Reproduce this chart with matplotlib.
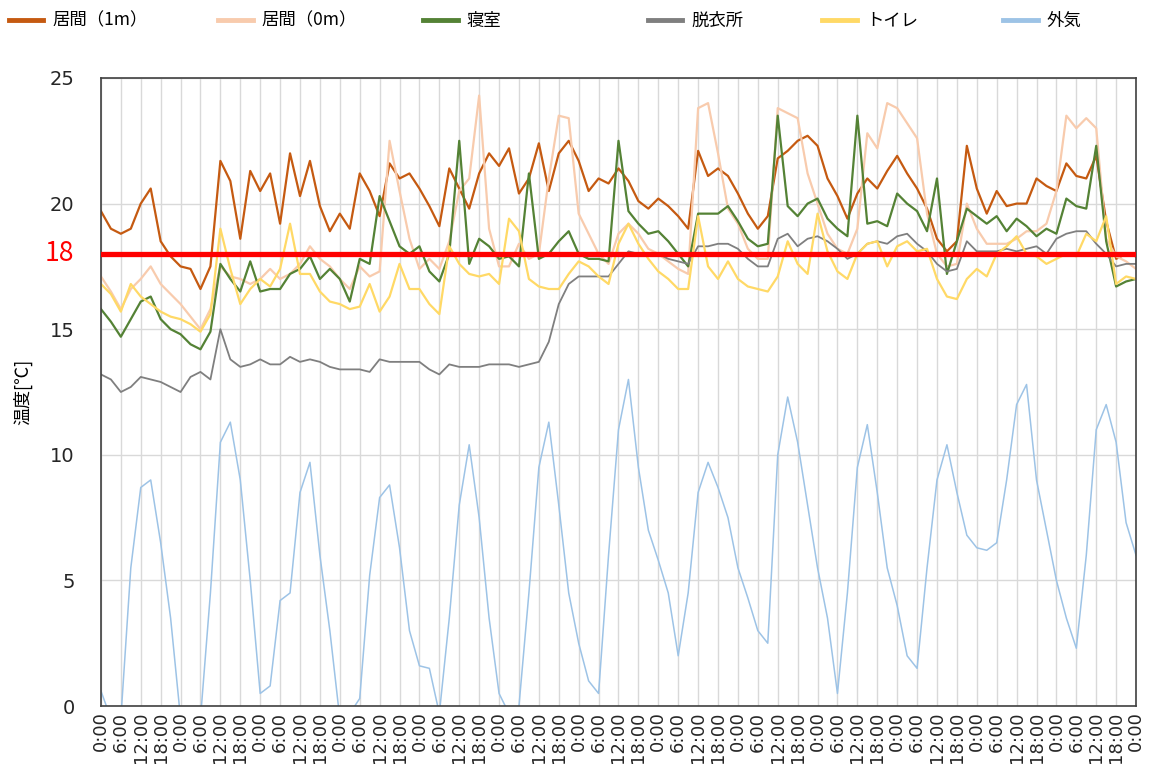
import numpy as np
import matplotlib
matplotlib.use("Agg")
import matplotlib.pyplot as plt
import matplotlib.transforms as mtransforms

plt.rcParams['font.family'] = ['Noto Sans CJK JP', 'DejaVu Sans']

# 3時間ごとの読み取り値 (0:00 から 13日分)
step_h = 3

living_1m = [
    19.7, 19.0, 18.8, 19.0, 20.0, 20.6, 18.5, 17.9,
    17.5, 17.4, 16.6, 17.5, 21.7, 20.9, 18.6, 21.3,
    20.5, 21.2, 19.2, 22.0, 20.3, 21.7, 19.9, 18.9,
    19.6, 19.0, 21.2, 20.5, 19.5, 21.6, 21.0, 21.2,
    20.6, 19.9, 19.1, 21.4, 20.6, 19.8, 21.2, 22.0,
    21.5, 22.2, 20.4, 21.0, 22.4, 20.5, 22.0, 22.5,
    21.7, 20.5, 21.0, 20.8, 21.4, 20.9, 20.1, 19.8,
    20.2, 19.9, 19.5, 19.0, 22.1, 21.1, 21.4, 21.1,
    20.4, 19.6, 19.0, 19.5, 21.8, 22.1, 22.5, 22.7,
    22.3, 21.0, 20.3, 19.4, 20.4, 21.0, 20.6, 21.3,
    21.9, 21.2, 20.6, 19.8, 18.6, 18.1, 18.5, 22.3,
    20.6, 19.6, 20.5, 19.9, 20.0, 20.0, 21.0, 20.7,
    20.5, 21.6, 21.1, 21.0, 21.9, 19.3, 17.8, 18.0,
    17.9,
]

living_0m = [
    17.1, 16.5, 15.8, 16.6, 17.0, 17.5, 16.8, 16.4,
    16.0, 15.5, 15.0, 15.8, 17.5, 17.1, 17.0, 16.8,
    17.0, 17.4, 17.0, 17.2, 17.6, 18.3, 17.8, 17.5,
    17.0, 16.6, 17.5, 17.1, 17.3, 22.5, 20.5, 18.6,
    17.4, 17.8, 17.4, 18.5, 20.5, 21.0, 24.3, 19.0,
    17.5, 17.5, 18.4, 17.8, 18.0, 21.0, 23.5, 23.4,
    19.6, 18.8, 18.0, 17.6, 18.8, 19.2, 18.8, 18.2,
    18.0, 17.7, 17.4, 17.2, 23.8, 24.0, 22.0, 19.8,
    19.2, 18.2, 17.8, 17.8, 23.8, 23.6, 23.4, 21.2,
    20.0, 18.8, 18.2, 18.0, 19.0, 22.8, 22.2, 24.0,
    23.8, 23.2, 22.6, 19.6, 18.0, 17.5, 17.6, 20.0,
    19.0, 18.4, 18.4, 18.4, 18.6, 18.9, 18.9, 19.2,
    20.5, 23.5, 23.0, 23.4, 23.0, 18.6, 17.9, 17.7,
    17.4,
]

bedroom = [
    15.8, 15.3, 14.7, 15.4, 16.1, 16.3, 15.4, 15.0,
    14.8, 14.4, 14.2, 14.9, 17.6, 17.0, 16.5, 17.7,
    16.5, 16.6, 16.6, 17.2, 17.4, 17.9, 17.0, 17.4,
    17.0, 16.1, 17.8, 17.6, 20.3, 19.3, 18.3, 18.0,
    18.3, 17.3, 16.9, 18.0, 22.5, 17.6, 18.6, 18.3,
    17.8, 17.9, 17.5, 21.2, 17.8, 18.0, 18.5, 18.9,
    18.0, 17.8, 17.8, 17.7, 22.5, 19.7, 19.2, 18.8,
    18.9, 18.5, 18.0, 17.5, 19.6, 19.6, 19.6, 19.9,
    19.3, 18.6, 18.3, 18.4, 23.5, 19.9, 19.5, 20.0,
    20.2, 19.4, 19.0, 18.7, 23.5, 19.2, 19.3, 19.1,
    20.4, 20.0, 19.7, 18.9, 21.0, 17.2, 18.5, 19.8,
    19.5, 19.2, 19.5, 18.9, 19.4, 19.1, 18.7, 19.0,
    18.8, 20.2, 19.9, 19.8, 22.3, 18.5, 16.7, 16.9,
    17.0,
]

dressing = [
    13.2, 13.0, 12.5, 12.7, 13.1, 13.0, 12.9, 12.7,
    12.5, 13.1, 13.3, 13.0, 15.0, 13.8, 13.5, 13.6,
    13.8, 13.6, 13.6, 13.9, 13.7, 13.8, 13.7, 13.5,
    13.4, 13.4, 13.4, 13.3, 13.8, 13.7, 13.7, 13.7,
    13.7, 13.4, 13.2, 13.6, 13.5, 13.5, 13.5, 13.6,
    13.6, 13.6, 13.5, 13.6, 13.7, 14.5, 16.0, 16.8,
    17.1, 17.1, 17.1, 17.1, 17.6, 18.1, 18.0, 18.0,
    18.0, 17.8, 17.7, 17.6, 18.3, 18.3, 18.4, 18.4,
    18.2, 17.8, 17.5, 17.5, 18.6, 18.8, 18.3, 18.6,
    18.7, 18.5, 18.2, 17.8, 18.0, 18.4, 18.5, 18.4,
    18.7, 18.8, 18.4, 18.1, 17.6, 17.3, 17.4, 18.5,
    18.1, 18.1, 18.1, 18.2, 18.1, 18.2, 18.3, 18.0,
    18.6, 18.8, 18.9, 18.9, 18.4, 18.0, 17.5, 17.6,
    17.6,
]

toilet = [
    16.8, 16.4, 15.7, 16.8, 16.3, 16.0, 15.7, 15.5,
    15.4, 15.2, 14.9, 15.6, 19.0, 17.4, 16.0, 16.6,
    17.0, 16.7, 17.4, 19.2, 17.2, 17.2, 16.5, 16.1,
    16.0, 15.8, 15.9, 16.8, 15.7, 16.3, 17.6, 16.6,
    16.6, 16.0, 15.6, 18.3, 17.6, 17.2, 17.1, 17.2,
    16.8, 19.4, 18.9, 17.0, 16.7, 16.6, 16.6, 17.2,
    17.7, 17.5, 17.1, 16.8, 18.4, 19.2, 18.4, 17.8,
    17.3, 17.0, 16.6, 16.6, 19.5, 17.5, 17.0, 17.7,
    17.0, 16.7, 16.6, 16.5, 17.1, 18.5, 17.6, 17.2,
    19.6, 18.1, 17.3, 17.0, 18.0, 18.4, 18.5, 17.5,
    18.3, 18.5, 18.1, 18.2, 17.0, 16.3, 16.2, 17.0,
    17.4, 17.1, 18.0, 18.3, 18.7, 18.0, 17.9, 17.6,
    17.8, 18.0, 17.9, 18.8, 18.5, 19.5, 16.8, 17.1,
    17.0,
]

outdoor = [
    0.6, -0.5, -0.5, 5.5, 8.7, 9.0, 6.5, 3.5,
    -0.5, -0.5, -0.5, 4.5, 10.5, 11.3, 9.0, 5.0,
    0.5, 0.8, 4.2, 4.5, 8.5, 9.7, 6.0, 3.0,
    -0.5, -0.3, 0.3, 5.2, 8.3, 8.8, 6.3, 3.0,
    1.6, 1.5, -0.3, 3.5, 8.0, 10.4, 7.5, 3.5,
    0.5, -0.3, 0.0, 4.5, 9.5, 11.3, 8.0, 4.5,
    2.5, 1.0, 0.5, 6.0, 11.0, 13.0, 9.5, 7.0,
    5.8, 4.5, 2.0, 4.5, 8.5, 9.7, 8.7, 7.5,
    5.5, 4.3, 3.0, 2.5, 10.0, 12.3, 10.5, 8.0,
    5.5, 3.5, 0.5, 4.5, 9.5, 11.2, 8.5, 5.5,
    4.0, 2.0, 1.5, 5.5, 9.0, 10.4, 8.5, 6.8,
    6.3, 6.2, 6.5, 9.0, 12.0, 12.8, 9.0, 7.0,
    5.0, 3.5, 2.3, 6.0, 11.0, 12.0, 10.5, 7.3,
    6.0,
]

series_names = ['居間（1m）', '居間（0m）', '寝室', '脱衣所', 'トイレ', '外気']
tick_labels = ['0:00', '6:00', '12:00', '18:00'] * 13 + ['0:00']
y_ticks = [0, 5, 10, 15, 20, 25]
threshold = 18

colors = ['#c55a11', '#f8cbad', '#548235', '#7f7f7f', '#ffd966', '#9dc3e6']
widths = [1.6, 1.6, 1.6, 1.3, 1.6, 1.1]
# 凡例の各項目の左端 (図の幅に対する割合)
legend_x = [-0.006, 0.176, 0.354, 0.549, 0.701, 0.858]

fig = plt.figure(figsize=(11.51, 7.83), dpi=100)
ax = fig.add_axes([0.0877, 0.0983, 0.8993, 0.8021])

hours = np.arange(len(living_1m)) * step_h
all_series = [living_1m, living_0m, bedroom, dressing, toilet, outdoor]
lines = []
for vals, name, c, lw in zip(all_series, series_names, colors, widths):
    ln, = ax.plot(hours, vals, color=c, lw=lw, label=name)
    lines.append(ln)

ax.axhline(threshold, color='#ff0000', lw=3.8, zorder=5)

tick_font = ['DejaVu Sans']
ax.set_xlim(0, hours[-1])
ax.set_ylim(0, 25)
ax.set_xticks(np.arange(0, hours[-1] + 1, 6))
ax.set_xticklabels(tick_labels, rotation=90, fontsize=13, color='#262626',
                   family=tick_font)
ax.set_yticks(y_ticks)
ax.set_yticklabels([str(v) for v in y_ticks], fontsize=14, color='#262626',
                   family=tick_font)
ax.tick_params(axis='y', length=0, pad=19)
ax.tick_params(axis='x', length=0, pad=4)
ax.grid(color='#d9d9d9', lw=1)
ax.set_axisbelow(True)
for sp in ax.spines.values():
    sp.set_color('#404040')
    sp.set_linewidth(1.2)

# しきい値のラベル
trans = mtransforms.blended_transform_factory(ax.transAxes, ax.transData)
ax.text(-0.026, threshold, str(threshold), transform=trans, ha='right',
        va='center', color='#ff0000', fontsize=19)

ax.set_ylabel('温度[℃]', fontsize=13)
ax.yaxis.set_label_coords(-0.066, 0.5)

for ln, name, x0 in zip(lines, series_names, legend_x):
    leg = fig.legend([ln], [name], loc='upper left', bbox_to_anchor=(x0, 1.005),
                     frameon=False, fontsize=12.5, handlelength=2.0,
                     handletextpad=0.5)
    for h in leg.get_lines():
        h.set_linewidth(3.5)

fig.savefig('out.png', dpi=100)
